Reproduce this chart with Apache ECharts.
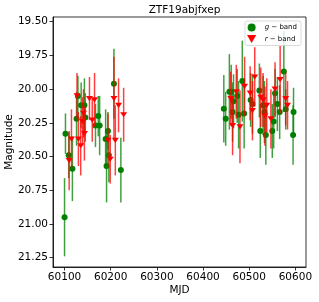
<!DOCTYPE html>
<html><head><meta charset="utf-8">
<script src="https://cdn.jsdelivr.net/npm/echarts@6/dist/echarts.min.js"></script>
<style>html,body{margin:0;padding:0;background:#fff}#c{width:319px;height:302px}</style>
</head><body><div id="c"></div>
<script>
const xTicks = [60100, 60200, 60300, 60400, 60500, 60600];
const yTicks = [19.50, 19.75, 20.00, 20.25, 20.50, 20.75, 21.00, 21.25];

const gMJD = [60100, 60102, 60109, 60117, 60126, 60129, 60136, 60143, 60145, 60167, 60173, 60176, 60189, 60191, 60194, 60196, 60207, 60222,
  60445, 60449, 60457, 60461, 60464, 60466, 60474, 60477, 60485, 60489, 60503, 60507, 60522, 60524, 60530, 60533, 60536, 60550, 60553, 60556, 60561, 60566, 60575, 60579, 60595, 60596];
const gMag = [20.95, 20.33, 20.49, 20.59, 20.22, 20.05, 20.12, 20.12, 20.21, 20.27, 20.20, 20.27, 20.37, 20.57, 20.31, 20.49, 19.96, 20.60,
  20.145, 20.22, 20.02, 20.02, 20.17, 20.09, 20.05, 20.19, 19.94, 20.18, 20.08, 20.11, 20.01, 20.31, 20.12, 20.17, 20.34, 20.31, 20.24, 20.03, 20.11, 20.17, 19.87, 20.15, 20.34, 20.17];
const gErr = [0.29, 0.15, 0.17, 0.24, 0.20, 0.15, 0.17, 0.20, 0.18, 0.16, 0.15, 0.22, 0.22, 0.27, 0.14, 0.20, 0.26, 0.24,
  0.25, 0.20, 0.28, 0.20, 0.22, 0.20, 0.20, 0.25, 0.30, 0.26, 0.20, 0.22, 0.20, 0.20, 0.22, 0.23, 0.22, 0.20, 0.20, 0.18, 0.20, 0.20, 0.30, 0.15, 0.22, 0.18];

const rMJD = [60110, 60115, 60127, 60130, 60135, 60139, 60141, 60143, 60154, 60160, 60165, 60194, 60199, 60207, 60210, 60217, 60228,
  60460, 60464, 60472, 60480, 60490, 60502, 60507, 60512, 60525, 60530, 60534, 60538, 60547, 60556, 60567, 60579, 60583];
const rMag = [20.53, 20.37, 20.05, 20.37, 20.42, 20.24, 20.18, 20.33, 20.07, 20.23, 20.08, 20.38, 20.52, 20.07, 20.38, 20.12, 20.19,
  20.07, 20.27, 20.02, 20.28, 19.98, 20.03, 20.16, 19.91, 20.06, 20.08, 20.20, 20.12, 20.22, 20.00, 19.93, 20.07, 20.12];
const rErr = [0.22, 0.22, 0.17, 0.20, 0.22, 0.18, 0.18, 0.20, 0.16, 0.16, 0.20, 0.20, 0.18, 0.31, 0.26, 0.20, 0.20,
  0.20, 0.22, 0.20, 0.27, 0.22, 0.20, 0.22, 0.22, 0.22, 0.20, 0.22, 0.20, 0.22, 0.20, 0.25, 0.20, 0.18];

const gData = gMJD.map((x, i) => [x, gMag[i], gErr[i]]);
const rData = rMJD.map((x, i) => [x, rMag[i], rErr[i]]);

function errRender(color) {
  return function (params, api) {
    const x = api.value(0), y = api.value(1), e = api.value(2);
    const p1 = api.coord([x, y - e]);
    const p2 = api.coord([x, y + e]);
    return { type: 'line', shape: { x1: p1[0], y1: p1[1], x2: p2[0], y2: p2[1] },
      style: { stroke: color, lineWidth: 1.5 } };
  };
}

const FONT = 'DejaVu Sans';
const triDown = 'path://M0,0L10,0L5,8.66Z';
const chart = echarts.init(document.getElementById('c'), null, { renderer: 'canvas' });
chart.setOption({
  animation: false,
  backgroundColor: '#fff',
  title: { text: 'ZTF19abjfxep', left: 179.5, top: 0, textAlign: 'center',
    textStyle: { fontFamily: FONT, fontSize: 10.5, fontWeight: 'normal', color: '#000' } },
  grid: { left: 53, right: 13, top: 17, bottom: 35, outerBoundsMode: 'none', containLabel: false,
    show: true, borderColor: '#000', borderWidth: 0.8, backgroundColor: 'transparent' },
  legend: {
    orient: 'vertical', right: 18, top: 21, padding: [2, 4, 2, 2], itemGap: 2.5,
    itemWidth: 16, itemHeight: 8, borderColor: '#d0d0d0', borderWidth: 0.8, borderRadius: 2,
    backgroundColor: 'rgba(255,255,255,0.8)', symbolKeepAspect: true,
    data: [{ name: 'g − band', icon: 'circle' }, { name: 'r − band', icon: triDown }],
    formatter: function (n) { return n[0] === 'g' ? '{i|g} − band' : '{i|r} − band'; },
    textStyle: { fontFamily: FONT, fontSize: 7, color: '#000', lineHeight: 9,
      rich: { i: { fontStyle: 'italic', fontFamily: FONT, fontSize: 7, lineHeight: 9 } } }
  },
  xAxis: {
    type: 'value', min: 60075, max: 60623,
    name: 'MJD', nameLocation: 'middle', nameGap: 18, nameMoveOverlap: false,
    nameTextStyle: { fontFamily: FONT, fontSize: 10.5, color: '#000' },
    axisLine: { show: true, lineStyle: { color: '#000', width: 0.8 } },
    axisTick: { show: true, inside: false, length: 3.5, lineStyle: { color: '#000', width: 0.8 }, customValues: xTicks },
    axisLabel: { margin: 5, fontFamily: FONT, fontSize: 10.5, color: '#000', customValues: xTicks,
      formatter: v => String(Math.round(v)) },
    splitLine: { show: false }
  },
  yAxis: {
    type: 'value', min: 19.465, max: 21.319, inverse: true,
    name: 'Magnitude', nameLocation: 'middle', nameGap: 38, nameMoveOverlap: false,
    nameTextStyle: { fontFamily: FONT, fontSize: 10.5, color: '#000' },
    axisLine: { show: true, lineStyle: { color: '#000', width: 0.8 } },
    axisTick: { show: true, inside: false, length: 3.5, lineStyle: { color: '#000', width: 0.8 }, customValues: yTicks },
    axisLabel: { margin: 5, fontFamily: FONT, fontSize: 10.5, color: '#000', customValues: yTicks,
      formatter: v => v.toFixed(2) },
    splitLine: { show: false }
  },
  series: [
    { type: 'custom', name: 'g_err', renderItem: errRender('rgba(0,128,0,0.75)'), data: gData,
      itemStyle: { color: '#008000' }, encode: { x: 0, y: 1 }, z: 1, clip: true, silent: true },
    { type: 'scatter', name: 'g − band', data: gData, symbol: 'circle', symbolSize: 6,
      itemStyle: { color: '#008000', opacity: 1 }, z: 2 },
    { type: 'custom', name: 'r_err', renderItem: errRender('rgba(255,0,0,0.75)'), data: rData,
      itemStyle: { color: '#ff0000' }, encode: { x: 0, y: 1 }, z: 3, clip: true, silent: true },
    { type: 'scatter', name: 'r − band', data: rData, symbol: triDown, symbolSize: [7, 6], symbolKeepAspect: true,
      itemStyle: { color: '#ff0000', opacity: 1 }, z: 4 }
  ]
});
</script></body></html>
